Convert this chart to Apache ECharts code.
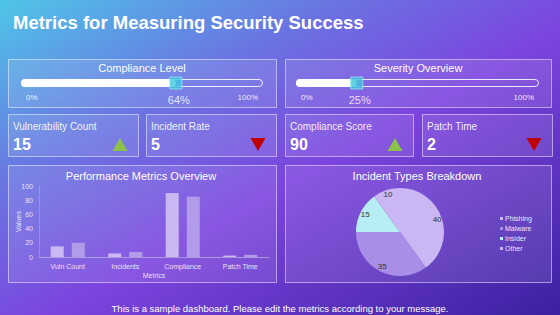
<!DOCTYPE html>
<html>
<head>
<meta charset="utf-8">
<script src="https://cdn.jsdelivr.net/npm/echarts@6/dist/echarts.min.js"></script>
<style>
  html, body { margin: 0; padding: 0; }
  #main { width: 560px; height: 315px; }
</style>
</head>
<body>
<div id="main"></div>
<script>
// gauges (slider style)
const gaugeNames = ['Compliance Level', 'Severity Overview'];
const gaugeValues = [64, 25];

// kpi cards
const kpiNames = ['Vulnerability Count', 'Incident Rate', 'Compliance Score', 'Patch Time'];
const kpiValues = [15, 5, 90, 2];
const kpiTrend = ['up', 'down', 'up', 'down'];

// performance bars
const perfCategories = ['Vuln Count', 'Incidents', 'Compliance', 'Patch Time'];
const perfCurrent = [15, 5, 90, 2];
const perfPrevious = [20, 7, 85, 3];
const perfTicks = [0, 20, 40, 60, 80, 100];

// incident pie
const incidentNames = ['Phishing', 'Malware', 'Insider', 'Other'];
const incidentValues = [40, 35, 15, 10];
const incidentColors = ['#c9b6f2', '#a98ee8', '#b7eef3', '#c9b6f2'];

const FONT = 'Liberation Sans, Arial, sans-serif';
const chart = echarts.init(document.getElementById('main'), null, { renderer: 'svg' });

// panel boxes
const panels = [
  [8, 59, 268, 48], [285, 59, 266, 48],
  [8, 114, 130, 42], [146, 114, 130, 42], [285, 114, 128, 42], [422, 114, 130, 42],
  [8, 165, 268, 117], [285, 165, 266, 117]
];
const graphics = panels.map(p => ({
  type: 'rect',
  shape: { x: p[0] + 0.5, y: p[1] + 0.5, width: p[2], height: p[3] },
  style: { fill: 'rgba(255,255,255,0.1)', stroke: 'rgba(255,255,255,0.5)', lineWidth: 1 },
  silent: true
}));

// kpi text + arrows
kpiNames.forEach((name, i) => {
  const p = panels[i + 2];
  graphics.push({
    type: 'text', x: p[0] + 5, y: p[1] + 12,
    style: { text: name, fill: 'rgba(255,255,255,0.92)', font: '10px ' + FONT, verticalAlign: 'middle' }
  });
  graphics.push({
    type: 'text', x: p[0] + 5, y: p[1] + 30,
    style: { text: String(kpiValues[i]), fill: '#fff', font: 'bold 16px ' + FONT, verticalAlign: 'middle' }
  });
  const cx = p[0] + p[2] - 18;
  const up = kpiTrend[i] === 'up';
  graphics.push({
    type: 'polygon',
    shape: { points: up ? [[cx - 7.5, 151], [cx + 7.5, 151], [cx, 138]] : [[cx - 7.5, 138], [cx + 7.5, 138], [cx, 151]] },
    style: { fill: up ? '#8bc34a' : '#c00000' }
  });
});

const sliderGrids = [
  { left: 21, width: 242, top: 79, height: 8 },
  { left: 296, width: 243, top: 79, height: 8 }
];

const xAxes = [];
const yAxes = [];
const series = [];
gaugeValues.forEach((v, i) => {
  xAxes.push({
    gridIndex: i, type: 'value', min: 0, max: 100, interval: 100,
    axisLine: { show: false }, axisTick: { show: false }, splitLine: { show: false },
    axisLabel: {
      formatter: '{value}%', color: 'rgba(255,255,255,0.9)', fontSize: 8, fontFamily: FONT,
      margin: 6, alignMinLabel: 'left', alignMaxLabel: 'right', padding: [0, 5, 0, 5]
    }
  });
  yAxes.push({ gridIndex: i, type: 'category', data: [gaugeNames[i]], show: false });
  series.push({
    type: 'bar', xAxisIndex: i, yAxisIndex: i, data: [100], barWidth: 8, silent: true,
    itemStyle: { color: 'rgba(255,255,255,0)', borderColor: 'rgba(255,255,255,0.85)', borderWidth: 1, borderRadius: 4 }
  });
  series.push({
    type: 'bar', xAxisIndex: i, yAxisIndex: i, data: [v], barWidth: 8, barGap: '-100%', silent: true,
    itemStyle: { color: '#fff', borderRadius: 4 }
  });
  series.push({
    type: 'scatter', xAxisIndex: i, yAxisIndex: i, data: [[v, gaugeNames[i]]],
    symbol: 'rect', symbolSize: 12, silent: true,
    itemStyle: { color: '#3ec6de', borderColor: '#9be6f2', borderWidth: 1 },
    label: { show: true, position: 'bottom', distance: 5, offset: [3, 0], formatter: v + '%', color: '#fff', fontSize: 11, fontFamily: FONT }
  });
});

// bar chart axes
xAxes.push({
  gridIndex: 2, type: 'category', data: perfCategories,
  name: 'Metrics', nameLocation: 'middle', nameGap: 15,
  nameTextStyle: { color: 'rgba(255,255,255,0.85)', fontSize: 7, fontFamily: FONT },
  axisLine: { lineStyle: { color: 'rgba(200,200,220,0.6)' } },
  axisTick: { show: false },
  axisLabel: { color: 'rgba(255,255,255,0.85)', fontSize: 7, fontFamily: FONT, margin: 6 }
});
yAxes.push({
  gridIndex: 2, type: 'value', min: perfTicks[0], max: perfTicks[perfTicks.length - 1], interval: 20,
  name: 'Values', nameLocation: 'middle', nameGap: 17, nameRotate: 90, nameMoveOverlap: false,
  nameTextStyle: { color: 'rgba(255,255,255,0.85)', fontSize: 7, fontFamily: FONT },
  axisLine: { show: true, lineStyle: { color: 'rgba(200,200,220,0.35)' } },
  axisTick: { show: false }, splitLine: { show: false },
  axisLabel: { color: 'rgba(255,255,255,0.8)', fontSize: 7, fontFamily: FONT, margin: 6 }
});
series.push({
  name: 'Current', type: 'bar', xAxisIndex: 2, yAxisIndex: 2, data: perfCurrent,
  barWidth: 13, barGap: '62%', itemStyle: { color: '#cbb8f2' }
});
series.push({
  name: 'Previous', type: 'bar', xAxisIndex: 2, yAxisIndex: 2, data: perfPrevious,
  barWidth: 13, barGap: '62%', itemStyle: { color: '#b29be9' }
});

// pie
const pieData = incidentNames.map((n, i) => ({ name: n, value: incidentValues[i], itemStyle: { color: incidentColors[i] } }));
series.push({
  type: 'pie', center: [400, 232], radius: 44, startAngle: 90, clockwise: true,
  data: pieData, label: { show: false }, labelLine: { show: false }, silent: true
});
// label ring so numbers sit near the rim
series.push({
  type: 'pie', center: [400, 232], radius: [28, 44], startAngle: 90, clockwise: true,
  data: incidentNames.map((n, i) => ({ name: n, value: incidentValues[i] })),
  itemStyle: { color: 'rgba(0,0,0,0)' }, silent: true,
  label: { show: true, position: 'inside', formatter: '{c}', color: '#333', fontSize: 8, fontFamily: FONT },
  labelLine: { show: false }
});

function titleItem(text, left, top, size, extra) {
  return Object.assign({
    text: text, left: left, top: top, padding: 0,
    textStyle: { color: '#fff', fontSize: size, fontWeight: 'normal', fontFamily: FONT }
  }, extra || {});
}

const option = {
  backgroundColor: {
    type: 'linear', x: 0, y: 0, x2: 1, y2: 1,
    colorStops: [
      { offset: 0, color: '#4fc6e8' },
      { offset: 0.3, color: '#6a74e2' },
      { offset: 0.55, color: '#7c44de' },
      { offset: 1, color: '#3c20a0' }
    ]
  },
  animation: false,
  textStyle: { fontFamily: FONT },
  title: [
    { text: 'Metrics for Measuring Security Success', left: 13, top: 13, padding: 0,
      textStyle: { color: '#fff', fontSize: 18.5, fontWeight: 'bold', fontFamily: FONT } },
    titleItem(gaugeNames[0], 142, 62, 11, { textAlign: 'center' }),
    titleItem(gaugeNames[1], 418, 62, 11, { textAlign: 'center' }),
    titleItem('Performance Metrics Overview', 141, 170, 11, { textAlign: 'center' }),
    titleItem('Incident Types Breakdown', 417, 170, 11, { textAlign: 'center' }),
    titleItem('This is a sample dashboard. Please edit the metrics according to your message.', 280, 303, 9.5, { textAlign: 'center' })
  ],
  legend: {
    data: incidentNames, orient: 'vertical', left: 500, top: 215, padding: 0,
    icon: 'rect', itemWidth: 3, itemHeight: 3, itemGap: 3,
    textStyle: { color: 'rgba(255,255,255,0.9)', fontSize: 7, fontFamily: FONT, padding: [0, 0, 0, -3] }
  },
  grid: [
    sliderGrids[0], sliderGrids[1],
    { left: 39, right: 291, top: 186, bottom: 58 }
  ],
  xAxis: xAxes,
  yAxis: yAxes,
  graphic: graphics,
  series: series
};

chart.setOption(option);
</script>
</body>
</html>
